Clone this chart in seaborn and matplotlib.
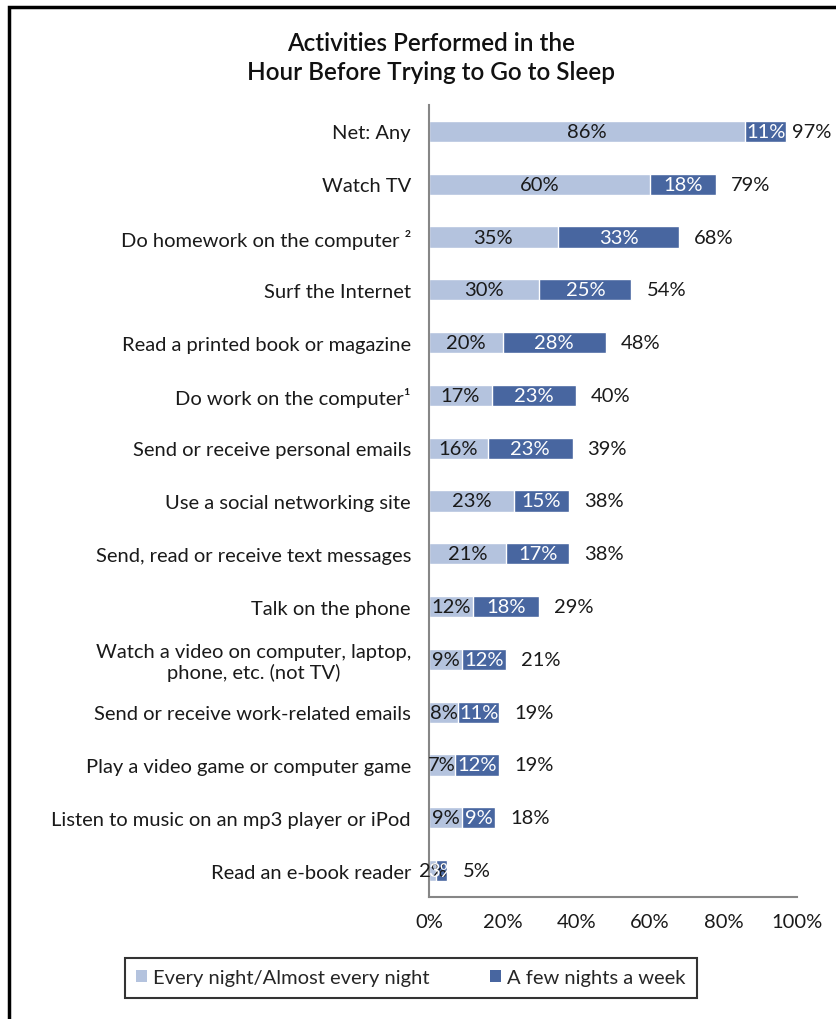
import pandas as pd
import seaborn as sns
import matplotlib.pyplot as plt
from matplotlib.patches import Rectangle, Patch

categories = [
    "Net: Any",
    "Watch TV",
    "Do homework on the computer ²",
    "Surf the Internet",
    "Read a printed book or magazine",
    "Do work on the computer¹",
    "Send or receive personal emails",
    "Use a social networking site",
    "Send, read or receive text messages",
    "Talk on the phone",
    "Watch a video on computer, laptop,\nphone, etc. (not TV)",
    "Send or receive work-related emails",
    "Play a video game or computer game",
    "Listen to music on an mp3 player or iPod",
    "Read an e-book reader",
]
every_night = [86, 60, 35, 30, 20, 17, 16, 23, 21, 12, 9, 8, 7, 9, 2]
few_nights = [11, 18, 33, 25, 28, 23, 23, 15, 17, 18, 12, 11, 12, 9, 3]
totals = [97, 79, 68, 54, 48, 40, 39, 38, 38, 29, 21, 19, 19, 18, 5]

light = "#B4C3DE"
dark = "#4866A0"
fs = 14.5

df = pd.DataFrame({"activity": categories, "every": every_night, "few": few_nights, "total": totals})
df["stack"] = df["every"] + df["few"]

sns.set_style("white")
plt.rcParams["font.family"] = ["Lato", "DejaVu Sans"]

fig = plt.figure(figsize=(8.37, 10.2), dpi=100)
ax = fig.add_axes([429 / 837, 1 - 898 / 1020, 368 / 837, 792 / 1020])

sns.barplot(data=df, y="activity", x="stack", color=dark, saturation=1, width=0.4, ax=ax, orient="h")
sns.barplot(data=df, y="activity", x="every", color=light, saturation=1, width=0.4, ax=ax, orient="h")

for i, row in df.iterrows():
    ax.text(row["every"] / 2, i, f"{row['every']}%", ha="center", va="center", fontsize=fs, color="#1a1a1a")
    ax.text(row["every"] + row["few"] / 2, i, f"{row['few']}%", ha="center", va="center", fontsize=fs, color="white")
    pad = 6 if row["stack"] > 90 else 15
    ax.annotate(f"{row['total']}%", (row["stack"], i), xytext=(pad, 0), textcoords="offset pixels",
                ha="left", va="center", fontsize=fs, color="#1a1a1a")

ax.set_xlim(0, 100)
ax.set_ylim(len(categories) - 0.5, -0.5)
ax.set_xticks(range(0, 101, 20))
ax.set_xticklabels([f"{v}%" for v in range(0, 101, 20)], fontsize=fs, color="#1a1a1a")
ax.set_yticks(range(len(categories)))
ax.set_yticklabels(categories, fontsize=fs, color="#1a1a1a", ha="right", multialignment="center")
ax.set_yticks([i - 0.5 for i in range(len(categories) + 1)], minor=True)
ax.tick_params(axis="y", which="major", length=0, pad=13)
ax.tick_params(axis="y", which="minor", length=4.5, color="#868686", width=1.5, direction="out")
ax.tick_params(axis="x", length=4.5, color="#868686", width=1.5, direction="out", pad=7)
ax.set_xlabel("")
ax.set_ylabel("")
for s in ["top", "right"]:
    ax.spines[s].set_visible(False)
for s in ["left", "bottom"]:
    ax.spines[s].set_color("#868686")
    ax.spines[s].set_linewidth(1.5)

fig.text(431 / 837, 1 - 58 / 1020, "Activities Performed in the\nHour Before Trying to Go to Sleep",
         ha="center", va="center", fontsize=17.5, fontweight="semibold", linespacing=1.3, color="#111111")

handles = [Patch(facecolor=light, edgecolor="none"), Patch(facecolor=dark, edgecolor="none")]
leg = fig.legend(handles, ["Every night/Almost every night", "A few nights a week"], ncol=2,
                 loc="center", bbox_to_anchor=(411 / 837, 1 - 979 / 1020), fontsize=fs,
                 frameon=True, fancybox=False, handlelength=0.55, handleheight=0.55, handletextpad=0.3,
                 columnspacing=3.0, borderpad=0.55, borderaxespad=0)
leg.get_frame().set_edgecolor("black")
leg.get_frame().set_linewidth(1.5)
# widen the legend box to match the original frame
fig.canvas.draw()
frame = leg.get_frame()
frame.set_x(frame.get_x() - 18)
frame.set_width(frame.get_width() + 36)

fig.patches.append(Rectangle((9 / 837, -0.1), 1.2, 1.1 - 8 / 1020, transform=fig.transFigure,
                             fill=False, edgecolor="black", linewidth=2.5))

fig.savefig("out.png", dpi=100)
